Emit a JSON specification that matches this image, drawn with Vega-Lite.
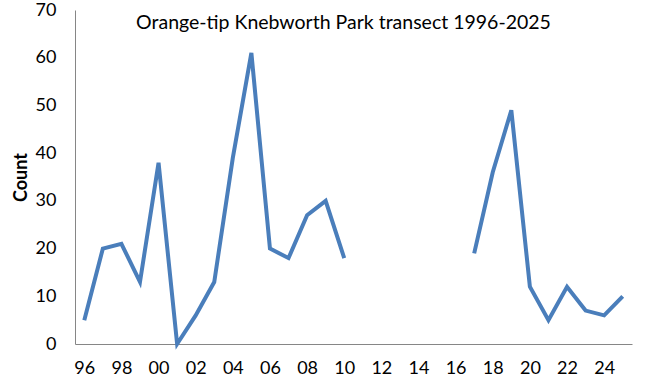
{
  "$schema": "https://vega.github.io/schema/vega-lite/v6.json",
  "autosize": "none",
  "width": 557,
  "height": 334,
  "padding": {"left": 75, "top": 10, "right": 14, "bottom": 45},
  "background": "white",
  "config": {"view": {"stroke": null}, "font": "Lato"},
  "title": {
    "text": "Orange-tip Knebworth Park transect 1996-2025",
    "font": "Lato",
    "fontSize": 19.5,
    "fontWeight": "normal",
    "color": "#000000",
    "anchor": "middle",
    "offset": -32,
    "dx": -10
  },
  "data": {
    "values": [
      {"year": 1996, "count": 5, "seg": "a"},
      {"year": 1997, "count": 20, "seg": "a"},
      {"year": 1998, "count": 21, "seg": "a"},
      {"year": 1999, "count": 13, "seg": "a"},
      {"year": 2000, "count": 38, "seg": "a"},
      {"year": 2001, "count": 0, "seg": "a"},
      {"year": 2002, "count": 6, "seg": "a"},
      {"year": 2003, "count": 13, "seg": "a"},
      {"year": 2004, "count": 39, "seg": "a"},
      {"year": 2005, "count": 61, "seg": "a"},
      {"year": 2006, "count": 20, "seg": "a"},
      {"year": 2007, "count": 18, "seg": "a"},
      {"year": 2008, "count": 27, "seg": "a"},
      {"year": 2009, "count": 30, "seg": "a"},
      {"year": 2010, "count": 18, "seg": "a"},
      {"year": 2017, "count": 19, "seg": "b"},
      {"year": 2018, "count": 36, "seg": "b"},
      {"year": 2019, "count": 49, "seg": "b"},
      {"year": 2020, "count": 12, "seg": "b"},
      {"year": 2021, "count": 5, "seg": "b"},
      {"year": 2022, "count": 12, "seg": "b"},
      {"year": 2023, "count": 7, "seg": "b"},
      {"year": 2024, "count": 6, "seg": "b"},
      {"year": 2025, "count": 10, "seg": "b"}
    ]
  },
  "mark": {"type": "line", "color": "#4a7ebb", "strokeWidth": 4, "strokeJoin": "miter", "clip": false},
  "encoding": {
    "x": {
      "field": "year",
      "type": "quantitative",
      "scale": {"domain": [1995.5, 2025.5], "nice": false, "zero": false},
      "axis": {
        "title": null,
        "values": [1996, 1998, 2000, 2002, 2004, 2006, 2008, 2010, 2012, 2014, 2016, 2018, 2020, 2022, 2024],
        "labelExpr": "substring(toString(datum.value), 2)",
        "ticks": false,
        "grid": false,
        "domainColor": "#868686",
        "domainWidth": 1,
        "labelFont": "Lato",
        "labelFontSize": 18,
        "labelColor": "#000000",
        "labelPadding": 15,
        "labelFlush": false
      }
    },
    "y": {
      "field": "count",
      "type": "quantitative",
      "scale": {"domain": [0, 70], "nice": false},
      "axis": {
        "title": "Count",
        "titleFont": "Lato",
        "titleFontSize": 18,
        "titleFontWeight": "bold",
        "titleColor": "#000000",
        "titlePadding": 5,
        "values": [0, 10, 20, 30, 40, 50, 60, 70],
        "ticks": false,
        "grid": false,
        "domainColor": "#868686",
        "domainWidth": 1,
        "labelFont": "Lato",
        "labelFontSize": 18,
        "labelColor": "#000000",
        "labelPadding": 19,
        "labelFlush": false
      }
    },
    "detail": {"field": "seg"}
  }
}
